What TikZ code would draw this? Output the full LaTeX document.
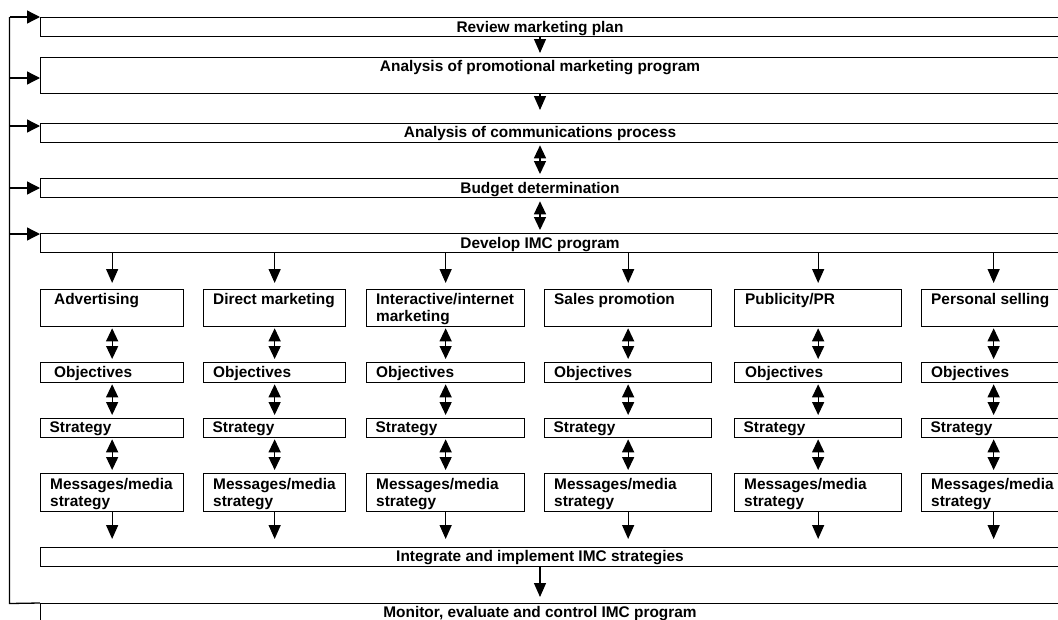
\documentclass[tikz,border=0pt]{standalone}
\usepackage{fontspec}
\setmainfont{Liberation Sans}
\usetikzlibrary{arrows.meta,calc}
\tikzset{
  box/.style={draw=black, line width=1.3pt, rectangle, inner sep=0pt, anchor=north west},
  lbl/.style={font=\fontsize{15.4}{16.7}\selectfont\bfseries, inner sep=0pt, anchor=base west, align=left},
  ctr/.style={font=\fontsize{15.4}{17}\selectfont\bfseries, inner sep=0pt, anchor=base},
  arr/.style={line width=1.3pt, -{Triangle[length=14pt,width=12pt]}},
  darr/.style={line width=1.3pt, {Triangle[length=13pt,width=12pt]}-{Triangle[length=13pt,width=12pt]}},
  fb/.style={line width=1.3pt},
  fbarr/.style={line width=1.3pt, -{Triangle[length=13pt,width=13pt]}},
}
\begin{document}
\begin{tikzpicture}[x=1pt,y=-1pt]
\useasboundingbox (0,0) rectangle (1058,619);
\clip (0,0) rectangle (1058,619);

% main stack
\node[box, minimum width=1040pt, minimum height=19pt] (rev) at (40,17) {};
\node[box, minimum width=1040pt, minimum height=36pt] (apm) at (40,57) {};
\node[box, minimum width=1040pt, minimum height=19pt] (acp) at (40,123) {};
\node[box, minimum width=1040pt, minimum height=19pt] (bud) at (40,178) {};
\node[box, minimum width=1040pt, minimum height=19pt] (dev) at (40,233) {};
\node[box, minimum width=1040pt, minimum height=19pt] (int) at (40,547) {};
\node[box, minimum width=1040pt, minimum height=40pt] (mon) at (40,603) {};

\node[ctr] (revT) at (540,32) {Review marketing plan};
\node[ctr] (apmT) at (540,71.7) {Analysis of promotional marketing program};
\node[ctr] (acpT) at (540,137.7) {Analysis of communications process};
\node[ctr] (budT) at (540,193.3) {Budget determination};
\node[ctr] (devT) at (540,248.3) {Develop IMC program};
\node[ctr] (intT) at (540,561.5) {Integrate and implement IMC strategies};
\node[ctr] (monT) at (540,617) {Monitor, evaluate and control IMC program};

% stack connectors
\draw[arr, shorten >=4pt] (rev.south -| 540,0) -- (apm.north -| 540,0);
\draw[arr, shorten >=13pt] (apm.south -| 540,0) -- (acp.north -| 540,0);
\draw[darr, shorten <=2pt, shorten >=4pt] (acp.south -| 540,0) -- (bud.north -| 540,0);
\draw[darr, shorten <=3pt, shorten >=3pt] (bud.south -| 540,0) -- (dev.north -| 540,0);
\draw[arr, shorten >=6pt] (int.south -| 540,0) -- (mon.north -| 540,0);

% columns: name / left / width / x-offset of first labels / title baseline offset / title
\foreach \n/\l/\w/\o/\ty/\t in {
  c1/40/143/14/15.5/{Advertising},
  c2/203/142/10/15.5/{Direct marketing},
  c3/366/158/10/32.4/{Interactive/internet\\marketing},
  c4/544/167/10/15.5/{Sales promotion},
  c5/734/167/11/15.5/{Publicity/PR},
  c6/921/144/10/15.5/{Personal selling}}{
  \node[box, minimum width=\w pt, minimum height=37pt] (\n a) at (\l,289) {};
  \node[box, minimum width=\w pt, minimum height=20pt] (\n b) at (\l,362) {};
  \node[box, minimum width=\w pt, minimum height=19pt] (\n c) at (\l,418) {};
  \node[box, minimum width=\w pt, minimum height=38pt] (\n d) at (\l,473) {};
  \node[lbl] (\n aT) at ($(\n a.north west)+(\o,\ty)$) {\t};
  \node[lbl] (\n bT) at ($(\n b.north west)+(\o,15.3)$) {Objectives};
  \node[lbl] (\n cT) at ($(\n c.north west)+(9.5,14.7)$) {Strategy};
  \node[lbl] (\n dT) at ($(\n d.north west)+(10,33)$) {Messages/media\\strategy};
  \draw[arr, shorten >=6pt] (dev.south -| \n a.north) -- (\n a.north);
  \draw[darr, shorten <=1pt, shorten >=3pt] (\n a.south) -- (\n b.north);
  \draw[darr, shorten <=1pt, shorten >=3pt] (\n b.south) -- (\n c.north);
  \draw[darr, shorten <=1pt, shorten >=3pt] (\n c.south) -- (\n d.north);
  \draw[arr, shorten >=8pt] (\n d.south) -- (int.north -| \n d.south);
}

% feedback loop
\coordinate (fbTop) at (9.5,17);
\coordinate (fbBot) at (9.5,603.5);
\draw[fb] (mon.north west) -- (fbBot) -- (fbTop);
\draw[fbarr] (fbTop) -- (rev.north west);
\draw[fbarr] (fbTop |- 0,78) -- (apm.west |- 0,78);
\draw[fbarr] (fbTop |- 0,126) -- (acp.west |- 0,126);
\draw[fbarr] (fbTop |- 0,188) -- (bud.west |- 0,188);
\draw[fbarr] (fbTop |- 0,234) -- (dev.west |- 0,234);
\end{tikzpicture}
\end{document}
